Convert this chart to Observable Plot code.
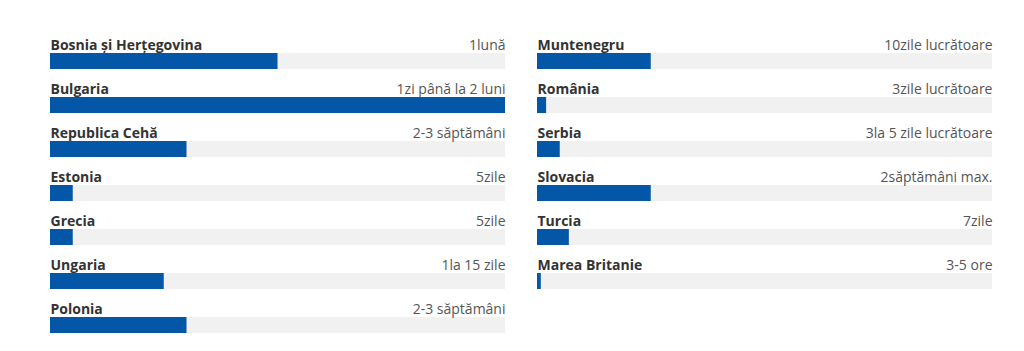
<!DOCTYPE html>
<html>
<head>
<meta charset="utf-8">
<script src="https://cdn.jsdelivr.net/npm/d3@7"></script>
<script src="https://cdn.jsdelivr.net/npm/@observablehq/plot@0.6"></script>
<style>
  html, body { margin: 0; padding: 0; background: #fff; }
  #chart svg { display: block; }
</style>
</head>
<body>
<div id="chart"></div>
<script>
const countries = ["Bosnia și Herțegovina", "Bulgaria", "Republica Cehă", "Estonia", "Grecia", "Ungaria", "Polonia",
                   "Muntenegru", "România", "Serbia", "Slovacia", "Turcia", "Marea Britanie"];
const durations = ["1lună", "1zi până la 2 luni", "2-3 săptămâni", "5zile", "5zile", "1la 15 zile", "2-3 săptămâni",
                   "10zile lucrătoare", "3zile lucrătoare", "3la 5 zile lucrătoare", "2săptămâni max.", "7zile", "3-5 ore"];
const values = [30, 60, 18, 3, 3, 15, 18, 15, 1.2, 3, 15, 4.2, 0.5];
const columns = [0, 0, 0, 0, 0, 0, 0, 1, 1, 1, 1, 1, 1];
const rows = [0, 1, 2, 3, 4, 5, 6, 0, 1, 2, 3, 4, 5];
const maxValue = 60;

const data = countries.map((c, i) => ({
  country: c, duration: durations[i], value: values[i], col: columns[i], row: rows[i], max: maxValue
}));

const chart = Plot.plot({
  width: 1024,
  height: 351,
  marginLeft: 50,
  marginRight: 32,
  marginTop: 53,
  marginBottom: 15,
  style: { fontFamily: "'Open Sans', sans-serif", background: "#fff" },
  fx: { axis: null, domain: [0, 1], paddingInner: 32 / 487, paddingOuter: 0 },
  x: { axis: null, domain: [0, maxValue] },
  y: { axis: null, domain: d3.range(7), paddingInner: 28.5 / 44.5, paddingOuter: 0, align: 0 },
  marks: [
    Plot.barX(data, { fx: "col", y: "row", x1: 0, x2: "max", fill: "#f1f1f1" }),
    Plot.barX(data, { fx: "col", y: "row", x1: 0, x2: "value", fill: "#0457a7" }),
    Plot.text(data, { fx: "col", y: "row", x: 0, text: "country", textAnchor: "start", lineAnchor: "bottom",
      dy: -12, fontSize: 14, fontWeight: "bold", fill: "#333" }),
    Plot.text(data, { fx: "col", y: "row", x: "max", text: "duration", textAnchor: "end", lineAnchor: "bottom",
      dy: -12, fontSize: 14, fill: "#555" })
  ]
});
document.getElementById("chart").appendChild(chart);
</script>
</body>
</html>
